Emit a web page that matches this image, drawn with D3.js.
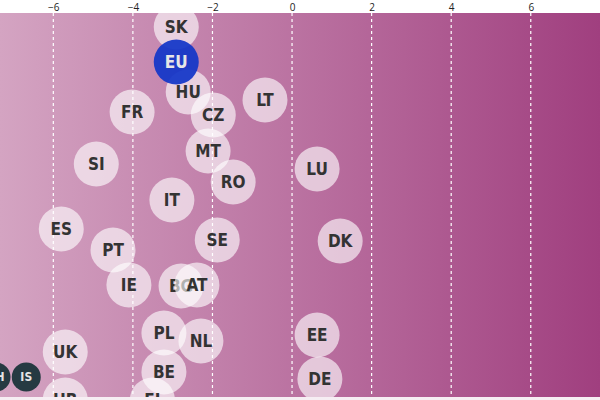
<!DOCTYPE html>
<html><head><meta charset="utf-8">
<script src="https://cdn.jsdelivr.net/npm/d3@7"></script>
<style>body{margin:0;background:#fff}svg{display:block}</style>
</head><body>
<svg id="c" width="600" height="400"></svg>
<script>
const countries = ["SK","EU","HU","FR","CZ","LT","MT","SI","RO","LU","IT","ES","SE","DK","PT","IE","BG","AT","PL","NL","EE","UK","BE","DE","IS","CH","HR","FI"];
const changeValues = [-2.91,-2.91,-2.61,-4.02,-1.98,-0.68,-2.11,-4.92,-1.48,0.63,-3.02,-5.80,-1.88,1.21,-4.50,-4.10,-2.79,-2.39,-3.22,-2.29,0.63,-5.70,-3.22,0.70,-6.68,-7.44,-5.70,-3.51];
const rankValues = [0.8,2.8,4.51,5.66,5.83,4.97,7.89,8.63,9.66,8.91,10.69,12.34,12.97,13.03,13.54,15.54,15.6,15.54,18.29,18.74,18.4,19.37,20.51,20.91,20.8,20.8,22.11,22.11];
const groups = ["eu","avg","eu","eu","eu","eu","eu","eu","eu","eu","eu","eu","eu","eu","eu","eu","eu","eu","eu","eu","eu","eu","eu","eu","non","non","eu","eu"];
const xTicks = [-6,-4,-2,0,2,4,6];

(function(){
const svg = d3.select("#c");
const W = 600, topY = 13, bottomY = 397;
const x = d3.scaleLinear().domain([-7.34, 7.74]).range([0, 600]);
const y = d3.scaleLinear().domain([0, 22]).range([topY, topY + 22*17.5]);

const defs = svg.append("defs");
const g = defs.append("linearGradient").attr("id","bg").attr("x1","0").attr("x2","1").attr("y1","0").attr("y2","0");
g.append("stop").attr("offset","0").attr("stop-color","#d4a4c2");
g.append("stop").attr("offset","1").attr("stop-color","#a03f7f");
defs.append("clipPath").attr("id","clip").append("rect").attr("x",0).attr("y",topY).attr("width",W).attr("height",bottomY-topY);

svg.append("rect").attr("x",0).attr("y",bottomY).attr("width",W).attr("height",400-bottomY).attr("fill","#f6eef3");
svg.append("rect").attr("x",0).attr("y",topY).attr("width",W).attr("height",bottomY-topY).attr("fill","url(#bg)");

const axis = d3.axisTop(x).tickValues(xTicks).tickSize(0).tickPadding(0).tickFormat(d3.format("d"));
const ax = svg.append("g").attr("transform",`translate(0,${topY-1})`).call(axis);
ax.select(".domain").remove();
ax.selectAll("text").attr("font-family","'Open Sans',sans-serif").attr("font-size",10).attr("fill","#222").attr("dy","-0.1em");

const plot = svg.append("g").attr("clip-path","url(#clip)");
plot.selectAll("line.grid").data(xTicks).join("line").attr("class","grid")
  .attr("x1",d=>x(d)).attr("x2",d=>x(d)).attr("y1",topY).attr("y2",bottomY)
  .attr("stroke","#fff").attr("stroke-width",1.2).attr("stroke-dasharray","3,3");

const data = countries.map((c,i)=>({c, v:changeValues[i], r:rankValues[i], g:groups[i]}));
const order = data.filter(d=>d.g!=="avg").concat(data.filter(d=>d.g==="avg"));
const nodes = plot.selectAll("g.n").data(order).join("g").attr("class","n")
  .attr("transform",d=>`translate(${x(d.v)},${y(d.r)})`);
nodes.append("circle").attr("r",d=>d.g==="non"?14.5:22.5)
  .attr("fill",d=>d.g==="avg"?"#1236c8":d.g==="non"?"#263a42":"#fff")
  .attr("fill-opacity",d=>d.g==="avg"?0.93:d.g==="non"?1:0.62);
nodes.append("text").text(d=>d.c).attr("text-anchor","middle").attr("dy","0.36em")
  .attr("font-family","'DejaVu Sans Condensed','Liberation Sans Narrow',sans-serif").attr("font-weight","bold")
  .attr("font-stretch","condensed")
  .attr("font-size",d=>d.g==="non"?12:17)
  .attr("fill",d=>d.g==="eu"?"#333":"#e6e6e6");
})();
</script>
</body></html>
